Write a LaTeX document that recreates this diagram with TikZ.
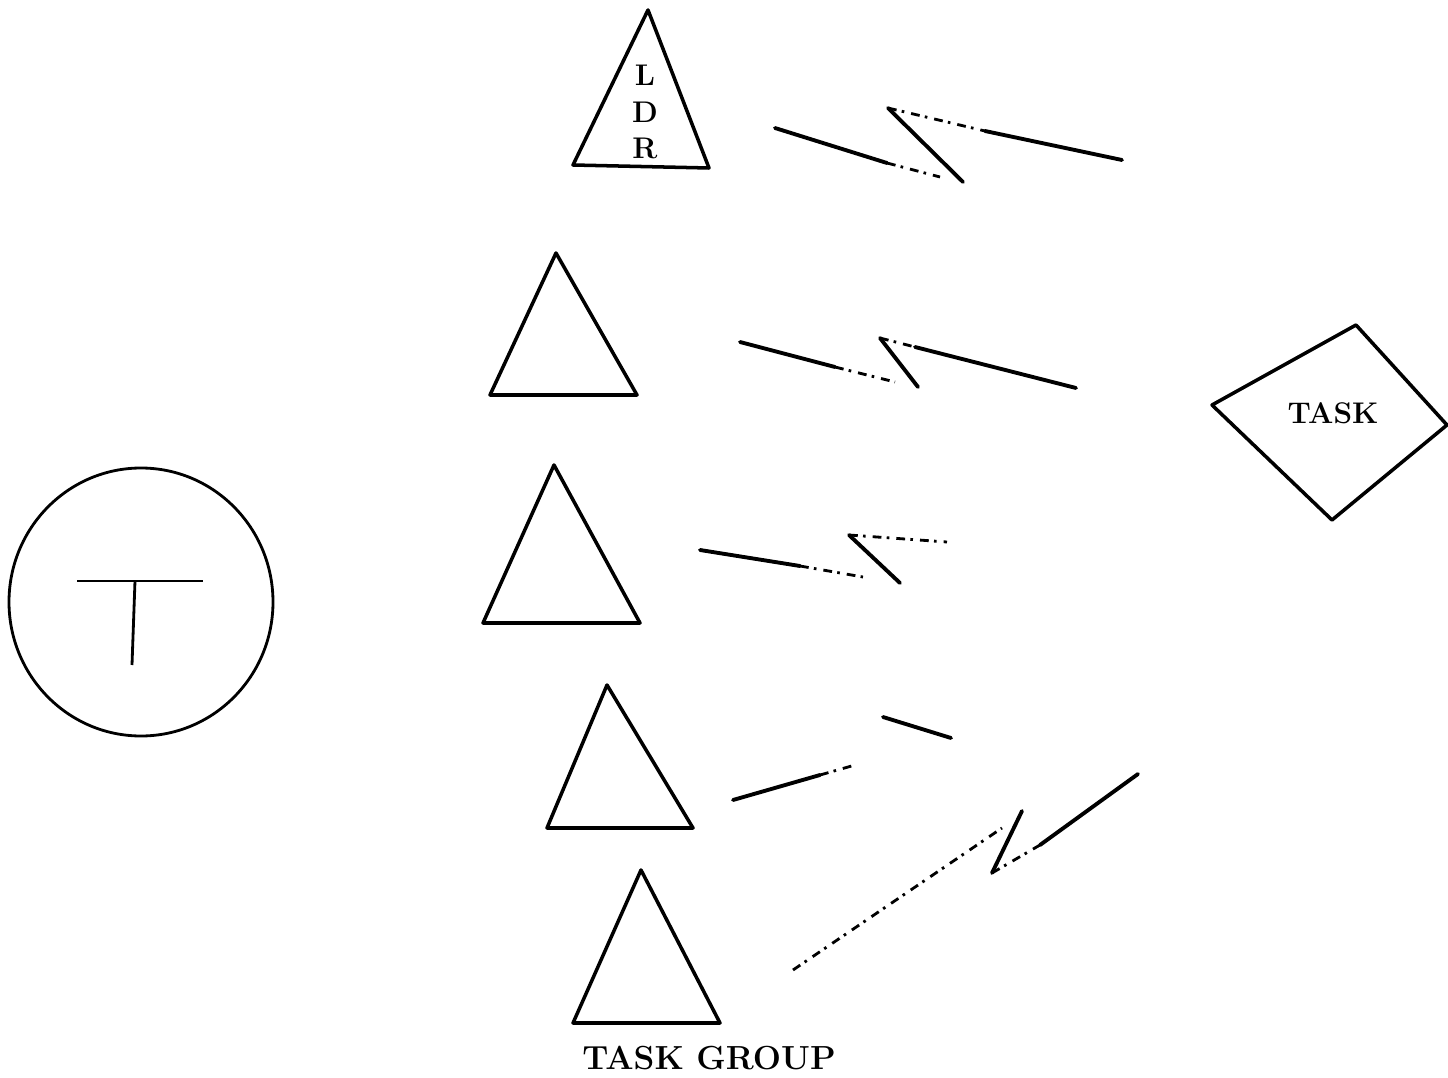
\documentclass[tikz,border=0pt]{standalone}
\usepackage{tikz}
\usetikzlibrary{positioning}

\begin{document}
\begin{tikzpicture}[
    x=0.02cm, y=-0.02cm,
    tri/.style={line width=2pt, line join=round},
    bolt/.style={line width=2.2pt, line cap=round},
    faded/.style={line width=1.6pt, dash pattern={on 5pt off 3pt on 1.5pt off 4pt}},
    ring/.style={line width=1.6pt},
    lbl/.style={inner sep=0pt, font=\bfseries\fontsize{19}{22}\selectfont}
]
\useasboundingbox (0,0) rectangle (1448,1078);
% trainer
\draw[ring] (141,602) ellipse [x radius=132, y radius=134];
\coordinate (barl) at (77,581);
\coordinate (barr) at (203,581);
\coordinate (stemt) at (135,581);
\coordinate (stemb) at (132,665);
\draw[ring] (barl) -- (barr);
\draw[ring] (stemt) -- (stemb);
% task group
\coordinate (t1a) at (648,10);  \coordinate (t1l) at (573,165);  \coordinate (t1r) at (709,168);
\coordinate (t2a) at (556,253); \coordinate (t2l) at (490,395);  \coordinate (t2r) at (637,395);
\coordinate (t3a) at (554,465); \coordinate (t3l) at (483,623);  \coordinate (t3r) at (640,623);
\coordinate (t4a) at (607,685); \coordinate (t4l) at (547,828);  \coordinate (t4r) at (693,828);
\coordinate (t5a) at (641,870); \coordinate (t5l) at (573,1023); \coordinate (t5r) at (720,1023);
\draw[tri] (t1a) -- (t1r) -- (t1l) -- cycle;
\draw[tri] (t2a) -- (t2r) -- (t2l) -- cycle;
\draw[tri] (t3a) -- (t3r) -- (t3l) -- cycle;
\draw[tri] (t4a) -- (t4r) -- (t4l) -- cycle;
\draw[tri] (t5a) -- (t5r) -- (t5l) -- cycle;
\node[lbl, font=\bfseries\fontsize{17}{21}\selectfont, align=center] (ldr) at (645,112) {L\\D\\R};
\node[lbl] (group) at (709,1058) {TASK GROUP};
% task
\coordinate (dtop) at (1356,325);
\coordinate (dleft) at (1212,405);
\coordinate (dbot) at (1332,520);
\coordinate (dright) at (1447,425);
\draw[tri] (dtop) -- (dright) -- (dbot) -- (dleft) -- cycle;
\node[lbl, font=\bfseries\fontsize{17}{20}\selectfont] (task) at (1333,413) {TASK};
% links
\coordinate (b1s) at (775,128); \coordinate (b1m) at (887,163); \coordinate (b1e) at (940,177);
\coordinate (b1p) at (888,108); \coordinate (b1q) at (963,182);
\coordinate (b1f) at (985,131); \coordinate (b1g) at (1122,160);
\draw[bolt] (b1s) -- (b1m);
\draw[faded] (b1m) -- (b1e);
\draw[bolt] (b1p) -- (b1q);
\draw[faded] (b1p) -- (b1f);
\draw[bolt] (b1f) -- (b1g);
\coordinate (b2s) at (740,342); \coordinate (b2m) at (835,367); \coordinate (b2e) at (895,382);
\coordinate (b2p) at (880,338); \coordinate (b2q) at (918,387);
\coordinate (b2f) at (915,347); \coordinate (b2g) at (1076,388);
\draw[bolt] (b2s) -- (b2m);
\draw[faded] (b2m) -- (b2e);
\draw[bolt] (b2p) -- (b2q);
\draw[faded] (b2p) -- (b2f);
\draw[bolt] (b2f) -- (b2g);
\coordinate (b3s) at (700,550); \coordinate (b3m) at (800,566); \coordinate (b3e) at (863,577);
\coordinate (b3p) at (849,535); \coordinate (b3q) at (900,583);
\coordinate (b3f) at (947,542);
\draw[bolt] (b3s) -- (b3m);
\draw[faded] (b3m) -- (b3e);
\draw[bolt] (b3p) -- (b3q);
\draw[faded] (b3p) -- (b3f);
\coordinate (b4s) at (733,800); \coordinate (b4m) at (820,775); \coordinate (b4e) at (855,765);
\coordinate (b4p) at (883,717); \coordinate (b4q) at (951,738);
\draw[bolt] (b4s) -- (b4m);
\draw[faded] (b4m) -- (b4e);
\draw[bolt] (b4p) -- (b4q);
\coordinate (b5s) at (793,970); \coordinate (b5e) at (1002,828);
\coordinate (b5p) at (1022,811); \coordinate (b5q) at (992,873);
\coordinate (b5f) at (1040,845); \coordinate (b5g) at (1138,774);
\draw[faded] (b5s) -- (b5e);
\draw[bolt] (b5p) -- (b5q);
\draw[faded] (b5q) -- (b5f);
\draw[bolt] (b5f) -- (b5g);
\end{tikzpicture}
\end{document}
